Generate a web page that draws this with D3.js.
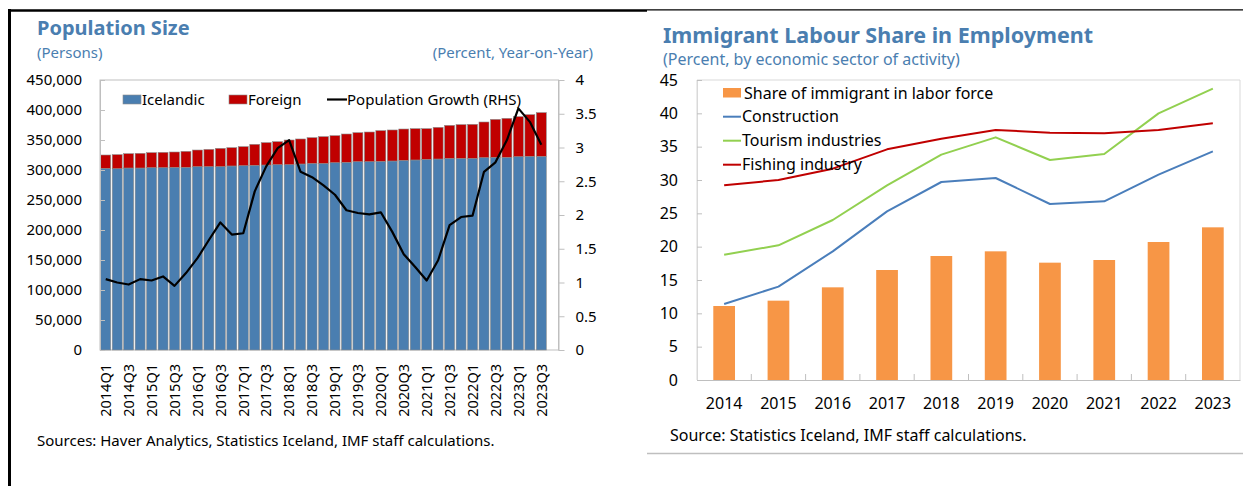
<!DOCTYPE html>
<html>
<head>
<meta charset="utf-8">
<script src="https://cdn.jsdelivr.net/npm/d3@7"></script>
<style>
  body { margin: 0; background: #fff; }
  svg text { font-family: "Noto Sans", sans-serif; }
</style>
</head>
<body>
<svg id="chart" width="1243" height="486"></svg>
<script>
// ---- left panel data: population by quarter ----
const quarters = [
  '2014Q1','2014Q2','2014Q3','2014Q4','2015Q1','2015Q2','2015Q3','2015Q4',
  '2016Q1','2016Q2','2016Q3','2016Q4','2017Q1','2017Q2','2017Q3','2017Q4',
  '2018Q1','2018Q2','2018Q3','2018Q4','2019Q1','2019Q2','2019Q3','2019Q4',
  '2020Q1','2020Q2','2020Q3','2020Q4','2021Q1','2021Q2','2021Q3','2021Q4',
  '2022Q1','2022Q2','2022Q3','2022Q4','2023Q1','2023Q2','2023Q3'
];
const icelandic = [
  302800, 302200, 303300, 303300, 303900, 303900, 304400, 304400,
  305600, 305600, 305600, 306700, 307200, 307800, 308300, 308900,
  308900, 310000, 311000, 311000, 312200, 312800, 313900, 313900,
  314400, 315000, 316100, 316700, 317800, 318300, 319400, 319400,
  319400, 320600, 321100, 321100, 322200, 322800, 322800
];
const foreign = [
  22200, 23400, 23900, 24500, 25000, 25500, 25600, 26700,
  27700, 28800, 30500, 30500, 31700, 35000, 37300, 38300,
  41100, 41700, 42900, 44600, 45000, 47200, 48300, 49400,
  51200, 51700, 52200, 52200, 51100, 52800, 55000, 56200,
  56700, 59400, 63300, 65000, 66700, 69400, 72800
];
const growth = [
  1.05, 1.00, 0.97, 1.05, 1.03, 1.09, 0.95, 1.14,
  1.36, 1.63, 1.89, 1.71, 1.73, 2.35, 2.72, 2.99,
  3.11, 2.64, 2.56, 2.44, 2.30, 2.07, 2.03, 2.01,
  2.04, 1.75, 1.42, 1.23, 1.03, 1.33, 1.85, 1.97,
  1.99, 2.64, 2.78, 3.11, 3.58, 3.38, 3.04
];
const popTicks = [0, 50000, 100000, 150000, 200000, 250000, 300000, 350000, 400000, 450000];
const growthTicks = [0, 0.5, 1, 1.5, 2, 2.5, 3, 3.5, 4];

// ---- right panel data: immigrant share ----
const years = ['2014','2015','2016','2017','2018','2019','2020','2021','2022','2023'];
const shareImmigrant = [11.1, 11.9, 13.9, 16.5, 18.6, 19.3, 17.6, 18.0, 20.7, 22.9];
const construction = [11.4, 14.0, 19.3, 25.3, 29.7, 30.3, 26.4, 26.8, 30.8, 34.3];
const tourism = [18.8, 20.2, 24.0, 29.2, 33.8, 36.4, 33.0, 33.9, 40.0, 43.7];
const fishing = [29.2, 30.0, 31.7, 34.6, 36.2, 37.5, 37.1, 37.0, 37.5, 38.5];
const shareTicks = [0, 5, 10, 15, 20, 25, 30, 35, 40, 45];

const titleBlue = '#4a7eb0';
const svg = d3.select('#chart');

// panel borders
svg.append('line').attr('x1', 9.5).attr('y1', 9).attr('x2', 9.5).attr('y2', 486)
  .attr('stroke', '#000').attr('stroke-width', 3);
svg.append('line').attr('x1', 8).attr('y1', 10.5).attr('x2', 647).attr('y2', 10.5)
  .attr('stroke', '#000').attr('stroke-width', 2.5);
svg.append('line').attr('x1', 647).attr('y1', 9.8).attr('x2', 1243).attr('y2', 9.8)
  .attr('stroke', '#000').attr('stroke-width', 1.2);
svg.append('line').attr('x1', 647).attr('y1', 453.5).attr('x2', 1243).attr('y2', 453.5)
  .attr('stroke', '#bfbfbf').attr('stroke-width', 1.5);

function styleAxis(g, size) {
  g.attr('font-family', '"Noto Sans", sans-serif').attr('font-size', size);
  g.selectAll('text').attr('fill', '#000');
  g.selectAll('.tick line').attr('stroke', '#bfbfbf');
}

// ================= LEFT: Population Size =================
const L = { left: 100, right: 558.5, top: 80, bottom: 350 };

svg.append('text').attr('x', 37).attr('y', 35)
  .attr('font-size', 20).attr('font-weight', 'bold').attr('fill', titleBlue)
  .text('Population Size');
svg.append('text').attr('x', 37).attr('y', 58)
  .attr('font-size', 15).attr('fill', titleBlue).text('(Persons)');
svg.append('text').attr('x', 593).attr('y', 58).attr('text-anchor', 'end')
  .attr('font-size', 15).attr('fill', titleBlue).text('(Percent, Year-on-Year)');

// 40 slots on the axis, last one left empty
const xQ = d3.scaleBand()
  .domain(quarters)
  .range([L.left, L.left + (L.right - L.left) * 39 / 40])
  .paddingInner(0.13)
  .paddingOuter(0.065);

const yPop = d3.scaleLinear().domain([0, 450000]).range([L.bottom, L.top]);
const yGrowth = d3.scaleLinear().domain([0, 4]).range([L.bottom, L.top]);

svg.append('rect')
  .attr('x', L.left).attr('y', L.top)
  .attr('width', L.right - L.left).attr('height', L.bottom - L.top)
  .attr('fill', 'none').attr('stroke', '#bfbfbf');

const popRows = quarters.map((q, i) => ({ q: q, icelandic: icelandic[i], foreign: foreign[i] }));
const stacked = d3.stack().keys(['icelandic', 'foreign'])(popRows);
const popColor = { icelandic: '#4a7eb0', foreign: '#c00000' };

svg.append('g')
  .selectAll('g')
  .data(stacked)
  .enter().append('g')
  .attr('fill', d => popColor[d.key])
  .selectAll('rect')
  .data(d => d)
  .enter().append('rect')
  .attr('x', d => xQ(d.data.q))
  .attr('y', d => yPop(d[1]))
  .attr('width', xQ.bandwidth())
  .attr('height', d => yPop(d[0]) - yPop(d[1]))
  .attr('stroke', '#8c8c8c')
  .attr('stroke-width', 0.6);

const growthLine = d3.line()
  .x((d, i) => xQ(quarters[i]) + xQ.bandwidth() / 2)
  .y(d => yGrowth(d));

svg.append('path')
  .datum(growth)
  .attr('d', growthLine)
  .attr('fill', 'none')
  .attr('stroke', '#000')
  .attr('stroke-width', 2.2)
  .attr('stroke-linejoin', 'round');

const gyl = svg.append('g')
  .attr('transform', `translate(${L.left},0)`)
  .call(d3.axisLeft(yPop).tickValues(popTicks).tickFormat(d3.format(','))
    .tickSizeInner(-5).tickSizeOuter(0).tickPadding(18));
gyl.select('.domain').attr('stroke', '#bfbfbf');
styleAxis(gyl, 15);

const gyr = svg.append('g')
  .attr('transform', `translate(${L.right},0)`)
  .call(d3.axisRight(yGrowth).tickValues(growthTicks).tickFormat(d => String(d))
    .tickSizeInner(6).tickSizeOuter(0).tickPadding(11));
gyr.select('.domain').attr('stroke', '#bfbfbf');
styleAxis(gyr, 15);

const gxl = svg.append('g')
  .attr('transform', `translate(0,${L.bottom})`)
  .call(d3.axisBottom(xQ).tickValues(quarters.filter((d, i) => i % 2 === 0)).tickSize(0));
gxl.select('.domain').remove();
styleAxis(gxl, 14.5);
gxl.selectAll('text')
  .attr('transform', 'rotate(-90)')
  .attr('x', -14).attr('y', 0).attr('dy', '0.36em')
  .attr('text-anchor', 'end');

// left legend
const legL = svg.append('g').attr('font-size', 15);
legL.append('rect').attr('x', 123).attr('y', 95).attr('width', 18).attr('height', 9)
  .attr('fill', '#4a7eb0').attr('stroke', '#8c8c8c').attr('stroke-width', 0.6);
legL.append('text').attr('x', 142).attr('y', 104.5).text('Icelandic');
legL.append('rect').attr('x', 229).attr('y', 95).attr('width', 18).attr('height', 9)
  .attr('fill', '#c00000').attr('stroke', '#8c8c8c').attr('stroke-width', 0.6);
legL.append('text').attr('x', 248).attr('y', 104.5).text('Foreign');
legL.append('line').attr('x1', 327).attr('x2', 347).attr('y1', 99.5).attr('y2', 99.5)
  .attr('stroke', '#000').attr('stroke-width', 2.2);
legL.append('text').attr('x', 347).attr('y', 104.5).text('Population Growth (RHS)');

svg.append('text').attr('x', 37).attr('y', 446).attr('font-size', 15)
  .text('Sources: Haver Analytics, Statistics Iceland, IMF staff calculations.');

// ================= RIGHT: Immigrant Labour Share =================
const R = { left: 697, right: 1240, top: 80, bottom: 380 };

svg.append('text').attr('x', 663).attr('y', 42.5)
  .attr('font-size', 21.5).attr('font-weight', 'bold').attr('fill', titleBlue)
  .text('Immigrant Labour Share in Employment');
svg.append('text').attr('x', 663).attr('y', 64.5)
  .attr('font-size', 16).attr('fill', titleBlue)
  .text('(Percent, by economic sector of activity)');

const xY = d3.scaleBand().domain(years).range([R.left, R.right]);
const yS = d3.scaleLinear().domain([0, 45]).range([R.bottom, R.top]);

// plot frame
svg.append('path')
  .attr('d', `M${R.left},${R.bottom}V${R.top}H${R.right}V${R.bottom}`)
  .attr('fill', 'none').attr('stroke', '#d9d9d9');

svg.append('g')
  .selectAll('rect')
  .data(shareImmigrant)
  .enter().append('rect')
  .attr('x', (d, i) => xY(years[i]) + xY.bandwidth() * 0.3)
  .attr('y', d => yS(d))
  .attr('width', xY.bandwidth() * 0.4)
  .attr('height', d => R.bottom - yS(d))
  .attr('fill', '#f79646');

const seriesR = [
  { name: 'Construction', values: construction, color: '#4a7ebb' },
  { name: 'Tourism industries', values: tourism, color: '#92d050' },
  { name: 'Fishing industry', values: fishing, color: '#c00000' }
];

const shareLine = d3.line()
  .x((d, i) => xY(years[i]) + xY.bandwidth() / 2)
  .y(d => yS(d));

svg.append('g')
  .selectAll('path')
  .data(seriesR)
  .enter().append('path')
  .attr('d', d => shareLine(d.values))
  .attr('fill', 'none')
  .attr('stroke', d => d.color)
  .attr('stroke-width', 2)
  .attr('stroke-linejoin', 'round');

const gyR = svg.append('g')
  .attr('transform', `translate(${R.left},0)`)
  .call(d3.axisLeft(yS).tickValues(shareTicks).tickSizeInner(-5).tickSizeOuter(0).tickPadding(19));
gyR.select('.domain').attr('stroke', '#d9d9d9');
styleAxis(gyR, 16);

const gxR = svg.append('g')
  .attr('transform', `translate(0,${R.bottom})`)
  .call(d3.axisBottom(xY).tickSize(0).tickPadding(18));
gxR.select('.domain').attr('stroke', '#bfbfbf');
styleAxis(gxR, 16);

// category boundary ticks pointing up
svg.append('g')
  .selectAll('line')
  .data(years.slice(1))
  .enter().append('line')
  .attr('x1', d => xY(d)).attr('x2', d => xY(d))
  .attr('y1', R.bottom).attr('y2', R.bottom - 6)
  .attr('stroke', '#bfbfbf');

// right legend
const legR = svg.append('g').attr('font-size', 16);
legR.append('rect').attr('x', 723).attr('y', 88).attr('width', 18).attr('height', 9.5)
  .attr('fill', '#f79646');
legR.append('text').attr('x', 744).attr('y', 98.5).text('Share of immigrant in labor force');
seriesR.forEach((s, i) => {
  const yy = 116.7 + i * 24;
  legR.append('line').attr('x1', 723).attr('x2', 741).attr('y1', yy).attr('y2', yy)
    .attr('stroke', s.color).attr('stroke-width', 2);
  legR.append('text').attr('x', 742).attr('y', yy + 5.5).text(s.name);
});

svg.append('text').attr('x', 670).attr('y', 441).attr('font-size', 16)
  .text('Source: Statistics Iceland, IMF staff calculations.');
</script>
</body>
</html>
